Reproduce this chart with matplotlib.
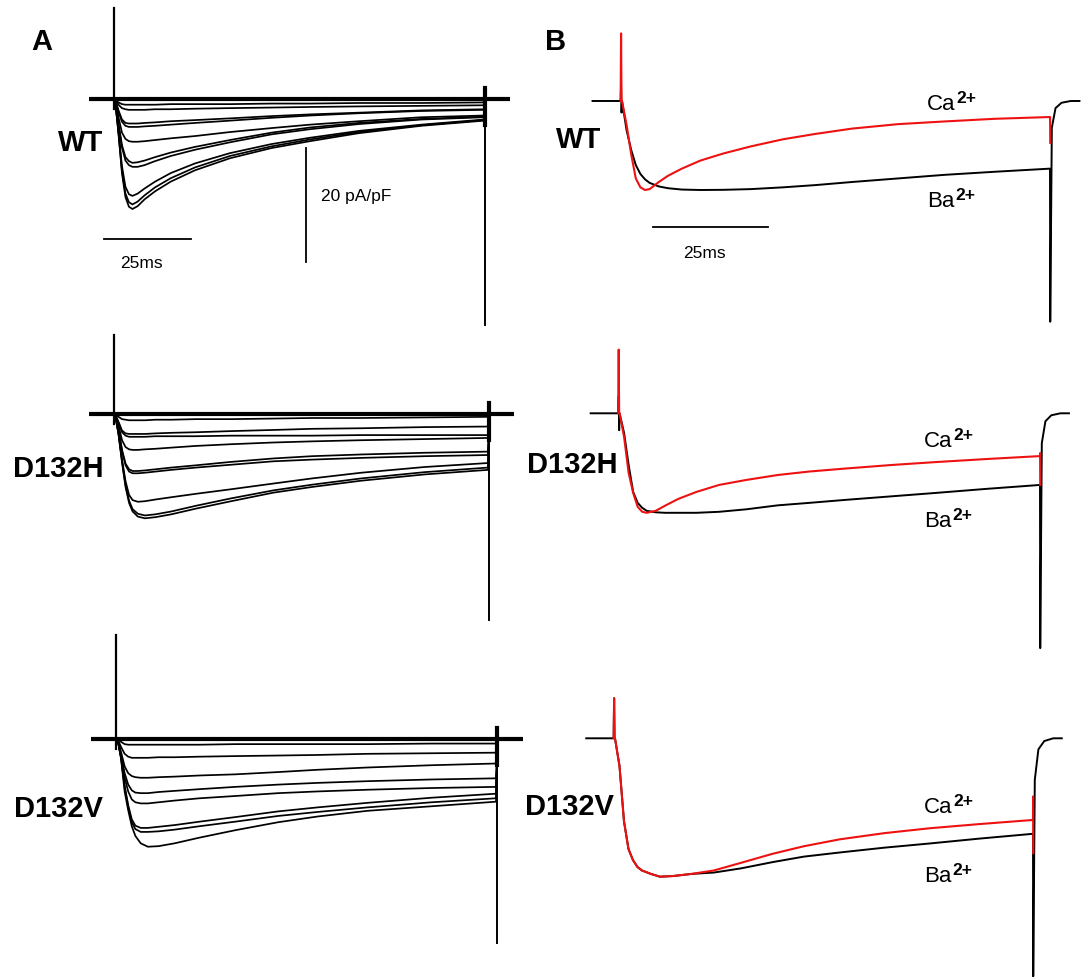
import numpy as np
import matplotlib.pyplot as plt

plt.rcParams['font.family'] = ['Liberation Sans', 'DejaVu Sans']
plt.rcParams['mathtext.default'] = 'regular'

W, H = 1083, 977
rows = ['WT', 'D132H', 'D132V']

# ---------------- A: current families (pA/pF) vs time after step onset (ms)
t_A = [0, 1, 2, 3, 4, 5, 6.5, 8.5, 11.5, 16, 23, 33, 45, 56, 70, 88, 106]

wt_A = [
    [0, -6.0, -13.0, -17.2, -18.9, -19.3, -18.8, -17.6, -16.2, -14.5, -12.5, -10.4, -8.6, -7.4, -6.0, -4.7, -3.8],
    [0, -6.0, -12.6, -16.6, -18.1, -18.5, -18.0, -16.9, -15.5, -13.9, -12.0, -10.0, -8.3, -7.1, -5.8, -4.6, -3.7],
    [0, -5.6, -11.8, -15.4, -16.7, -17.0, -16.6, -15.7, -14.5, -13.0, -11.3, -9.5, -7.9, -6.8, -5.6, -4.5, -3.6],
    [0, -4.5, -8.5, -10.8, -11.6, -11.9, -11.9, -11.6, -10.9, -10.0, -8.9, -7.6, -6.2, -5.3, -4.4, -3.6, -3.2],
    [0, -4.3, -8.1, -10.2, -10.9, -11.2, -11.1, -10.8, -10.2, -9.4, -8.4, -7.2, -5.9, -5.0, -4.2, -3.5, -3.1],
    [0, -3.2, -5.9, -7.0, -7.4, -7.5, -7.5, -7.4, -7.2, -6.9, -6.5, -5.8, -5.1, -4.5, -3.9, -3.2, -2.9],
    [0, -2.2, -4.0, -4.7, -4.9, -4.9, -4.9, -4.8, -4.7, -4.5, -4.2, -3.8, -3.3, -2.9, -2.5, -2.1, -1.9],
    [0, -2.0, -3.6, -4.2, -4.3, -4.3, -4.3, -4.2, -4.1, -3.9, -3.7, -3.4, -3.0, -2.7, -2.4, -2.0, -1.8],
    [0, -1.0, -1.6, -1.8, -1.9, -1.9, -1.9, -1.9, -1.8, -1.8, -1.7, -1.6, -1.5, -1.4, -1.3, -1.2, -1.1],
    [0, -0.6, -0.9, -1.0, -1.0, -1.0, -1.0, -1.0, -1.0, -0.9, -0.9, -0.9, -0.8, -0.8, -0.7, -0.7, -0.6],
]

d132h_A = [
    [0, -3.5, -8.5, -12.8, -15.6, -17.1, -18.0, -18.3, -18.1, -17.6, -16.6, -15.3, -13.8, -12.8, -11.7, -10.6, -9.8],
    [0, -3.5, -8.3, -12.5, -15.2, -16.7, -17.5, -17.8, -17.6, -17.1, -16.1, -14.8, -13.4, -12.4, -11.3, -10.2, -9.4],
    [0, -3.4, -8.0, -11.8, -14.2, -15.1, -15.4, -15.3, -15.0, -14.6, -14.0, -13.2, -12.2, -11.3, -10.3, -9.3, -8.6],
    [0, -2.8, -6.5, -9.0, -10.1, -10.4, -10.4, -10.3, -10.1, -9.8, -9.4, -8.9, -8.3, -8.0, -7.7, -7.4, -7.2],
    [0, -2.7, -6.3, -8.7, -9.7, -10.0, -10.0, -9.9, -9.7, -9.4, -9.0, -8.4, -7.8, -7.4, -7.1, -6.8, -6.6],
    [0, -2.0, -4.6, -5.8, -6.2, -6.3, -6.3, -6.2, -6.1, -5.9, -5.6, -5.3, -5.0, -4.8, -4.6, -4.4, -4.2],
    [0, -1.5, -3.2, -3.8, -4.0, -4.0, -4.0, -4.0, -3.9, -3.9, -3.9, -3.8, -3.8, -3.8, -3.7, -3.7, -3.7],
    [0, -1.4, -2.9, -3.4, -3.5, -3.5, -3.5, -3.5, -3.4, -3.3, -3.2, -3.0, -2.8, -2.6, -2.5, -2.3, -2.2],
    [0, -0.5, -0.9, -1.0, -1.1, -1.1, -1.1, -1.1, -1.0, -1.0, -0.9, -0.9, -0.8, -0.7, -0.7, -0.6, -0.5],
]

d132v_A = [
    [0, -3.5, -9.2, -12.5, -15.3, -17.0, -18.3, -18.9, -18.8, -18.3, -17.3, -16.0, -14.6, -13.6, -12.6, -11.8, -11.0],
    [0, -3.3, -8.5, -12.0, -14.6, -15.8, -16.3, -16.3, -16.2, -15.9, -15.3, -14.5, -13.5, -12.8, -12.0, -11.1, -10.4],
    [0, -3.2, -8.2, -11.6, -14.1, -15.2, -15.6, -15.6, -15.4, -15.1, -14.5, -13.7, -12.7, -12.0, -11.2, -10.3, -9.6],
    [0, -3.0, -6.8, -9.2, -10.6, -11.1, -11.3, -11.3, -11.1, -10.8, -10.4, -10.0, -9.5, -9.2, -8.9, -8.6, -8.4],
    [0, -2.8, -6.0, -8.0, -9.0, -9.4, -9.5, -9.5, -9.3, -9.1, -8.8, -8.4, -8.0, -7.7, -7.4, -7.1, -6.9],
    [0, -2.3, -4.8, -6.0, -6.5, -6.7, -6.8, -6.8, -6.7, -6.6, -6.4, -6.2, -5.8, -5.4, -5.0, -4.6, -4.3],
    [0, -1.4, -2.6, -3.1, -3.3, -3.3, -3.3, -3.3, -3.2, -3.2, -3.1, -3.0, -2.9, -2.8, -2.6, -2.5, -2.4],
    [0, -0.5, -0.9, -1.0, -1.0, -1.0, -1.0, -1.0, -1.0, -1.0, -1.0, -0.9, -0.9, -0.9, -0.9, -0.8, -0.8],
]

families_A = [wt_A, d132h_A, d132v_A]
cap_A = [16.0, 13.9, 18.2]       # capacitive spike at step onset
tail_A = [-39.6, -36.1, -35.8]   # tail current at step end
tail_top_A = 1.9
base_span_A = (-7.5, 113.5)

# ---------------- B: normalised Ca2+ / Ba2+ currents
t_B = [0, 1, 2, 3, 4, 5, 6, 8, 10, 13, 17, 22, 28, 35, 42, 50, 60, 70, 81, 93]

ca_B = [
    [0, -0.27, -0.60, -0.87, -0.97, -1.0, -0.99, -0.91, -0.84, -0.76, -0.67, -0.59, -0.51, -0.43, -0.37, -0.31, -0.26, -0.23, -0.20, -0.18],
    [0, -0.24, -0.60, -0.80, -0.94, -0.99, -1.0, -0.98, -0.93, -0.86, -0.79, -0.72, -0.67, -0.62, -0.585, -0.555, -0.52, -0.49, -0.46, -0.43],
    [0, -0.20, -0.60, -0.80, -0.88, -0.93, -0.955, -0.98, -1.0, -0.995, -0.98, -0.955, -0.90, -0.835, -0.78, -0.73, -0.685, -0.65, -0.62, -0.59],
]
ba_B = [
    [0, -0.33, -0.55, -0.72, -0.82, -0.88, -0.92, -0.96, -0.98, -0.995, -1.0, -0.998, -0.99, -0.97, -0.945, -0.91, -0.87, -0.83, -0.795, -0.76],
    [0, -0.20, -0.52, -0.79, -0.90, -0.95, -0.98, -0.995, -1.0, -1.0, -1.0, -0.99, -0.965, -0.925, -0.90, -0.87, -0.835, -0.80, -0.76, -0.72],
    [0, -0.20, -0.60, -0.80, -0.88, -0.93, -0.955, -0.98, -1.0, -0.995, -0.98, -0.97, -0.94, -0.895, -0.855, -0.825, -0.79, -0.76, -0.725, -0.69],
]
cap_ca_B = [0.76, 0.64, 0.29]
cap_ba_B = [(0.18, -0.13), (0.17, -0.17), (0.29, 0.0)]
tail_ba_B = [-2.48, -2.36, -1.72]
tail_ca_B = [(-0.18, -0.47), (-0.40, -0.72), (-0.42, -0.83)]
post_dt_B = [0.05, 0.4, 1.2, 2.5, 4.5, 6.4]
post_v_B = [-0.3, -0.08, -0.02, 0.0, 0.0]
pre_B = -6.4

# ---------------- layout (pixels of the 1083x977 image)
xs_A, xe_A, yb_A, ppu_A = [115, 115, 117.5], [484, 488, 496], [99, 414, 739], 5.7
xs_B, xe_B, yb_B = [622, 619.6, 615], [1050, 1040, 1033], [101, 413.3, 738.3]
ppu_B = [89, 99.5, 138.4]

fig = plt.figure(figsize=(W / 100, H / 100), dpi=100)


def panel(xs, xe, tend, yb, ppu):
    ax = fig.add_axes([0, 0, 1, 1])
    ax.axis('off')
    ax.patch.set_alpha(0)
    pxms = (xe - xs) / tend
    ax.set_xlim(-xs / pxms, (W - xs) / pxms)
    ax.set_ylim((yb - H) / ppu, yb / ppu)
    return ax


def px(x, y):
    return x / W, 1 - y / H


axes_A, axes_B = [], []
for i in range(3):
    ax = panel(xs_A[i], xe_A[i], t_A[-1], yb_A[i], ppu_A)
    axes_A.append(ax)
    tend = t_A[-1]
    ax.plot(base_span_A, [0, 0], color='black', lw=3.0, solid_capstyle='butt')
    for tr in families_A[i]:
        ax.plot(t_A + [tend + 0.5], tr + [0], color='black', lw=1.25)
    ax.plot([-0.3, -0.3], [-1.8, cap_A[i]], color='black', lw=1.6)
    ax.plot([tend + 0.3, tend + 0.3], [tail_top_A, tail_A[i]], color='black', lw=1.4)
    ax.plot([tend + 0.3, tend + 0.3], [tail_top_A, -4.5], color='black', lw=3.0)

    axb = panel(xs_B[i], xe_B[i], t_B[-1], yb_B[i], ppu_B[i])
    axes_B.append(axb)
    tend = t_B[-1]
    hi, lo = cap_ba_B[i]
    bt = [pre_B, -0.3, -0.2, -0.1] + t_B + [tend + d for d in post_dt_B]
    bv = [0, 0, hi, lo] + ba_B[i] + [tail_ba_B[i]] + post_v_B
    axb.plot(bt, bv, color='black', lw=1.4)
    ct = [-0.3, -0.2, -0.1] + t_B + [tend + 0.02, tend + 0.05]
    cv = [0, cap_ca_B[i], 0] + ca_B[i] + list(tail_ca_B[i])
    axb.plot(ct, cv, color='#ee1111', lw=1.5)

# scale bars
axes_A[0].plot([-3.3, 21.7], [-24.6, -24.6], color='black', lw=1.3)
axes_A[0].plot([54.9, 54.9], [-8.6, -28.6], color='black', lw=1.3)
axes_B[0].plot([6.7, 31.7], [-1.42, -1.42], color='black', lw=1.3)
fig.text(*px(141, 268), '25ms', fontsize=12.5, ha='center', va='baseline')
fig.text(*px(321, 201), '20 pA/pF', fontsize=12.5, ha='left', va='baseline')
fig.text(*px(704, 258), '25ms', fontsize=12.5, ha='center', va='baseline')

# panel letters and row labels
fig.text(*px(31, 50), 'A', fontsize=21, fontweight='bold', ha='left', va='baseline')
fig.text(*px(545, 50), 'B', fontsize=21, fontweight='bold', ha='left', va='baseline')
lab_A = [(81, 151, 'center'), (58, 477, 'center'), (58, 817, 'center')]
lab_B = [(579, 148, 'center'), (618, 473, 'right'), (614, 815, 'right')]
for name, (x, y, ha) in zip(rows, lab_A):
    fig.text(*px(x, y), name, fontsize=21, fontweight='bold', ha=ha, va='baseline')
for name, (x, y, ha) in zip(rows, lab_B):
    fig.text(*px(x, y), name, fontsize=21, fontweight='bold', ha=ha, va='baseline')

# ion labels: symbol plus raised charge
ca_pos = [(927, 110), (924, 447), (924, 813)]
ba_pos = [(927, 207), (924, 527), (924, 882)]
for i in range(3):
    for ion, (x, y) in (('Ca', ca_pos[i]), ('Ba', ba_pos[i])):
        txt = fig.text(*px(x, y), ion, fontsize=16, ha='left', va='baseline')
        axes_B[i].annotate('2+', xy=(1.02, 0.42), xycoords=txt, fontsize=12.5,
                           fontweight='bold', ha='left', va='bottom',
                           annotation_clip=False)

fig.savefig('out.png', dpi=100, facecolor='white')
